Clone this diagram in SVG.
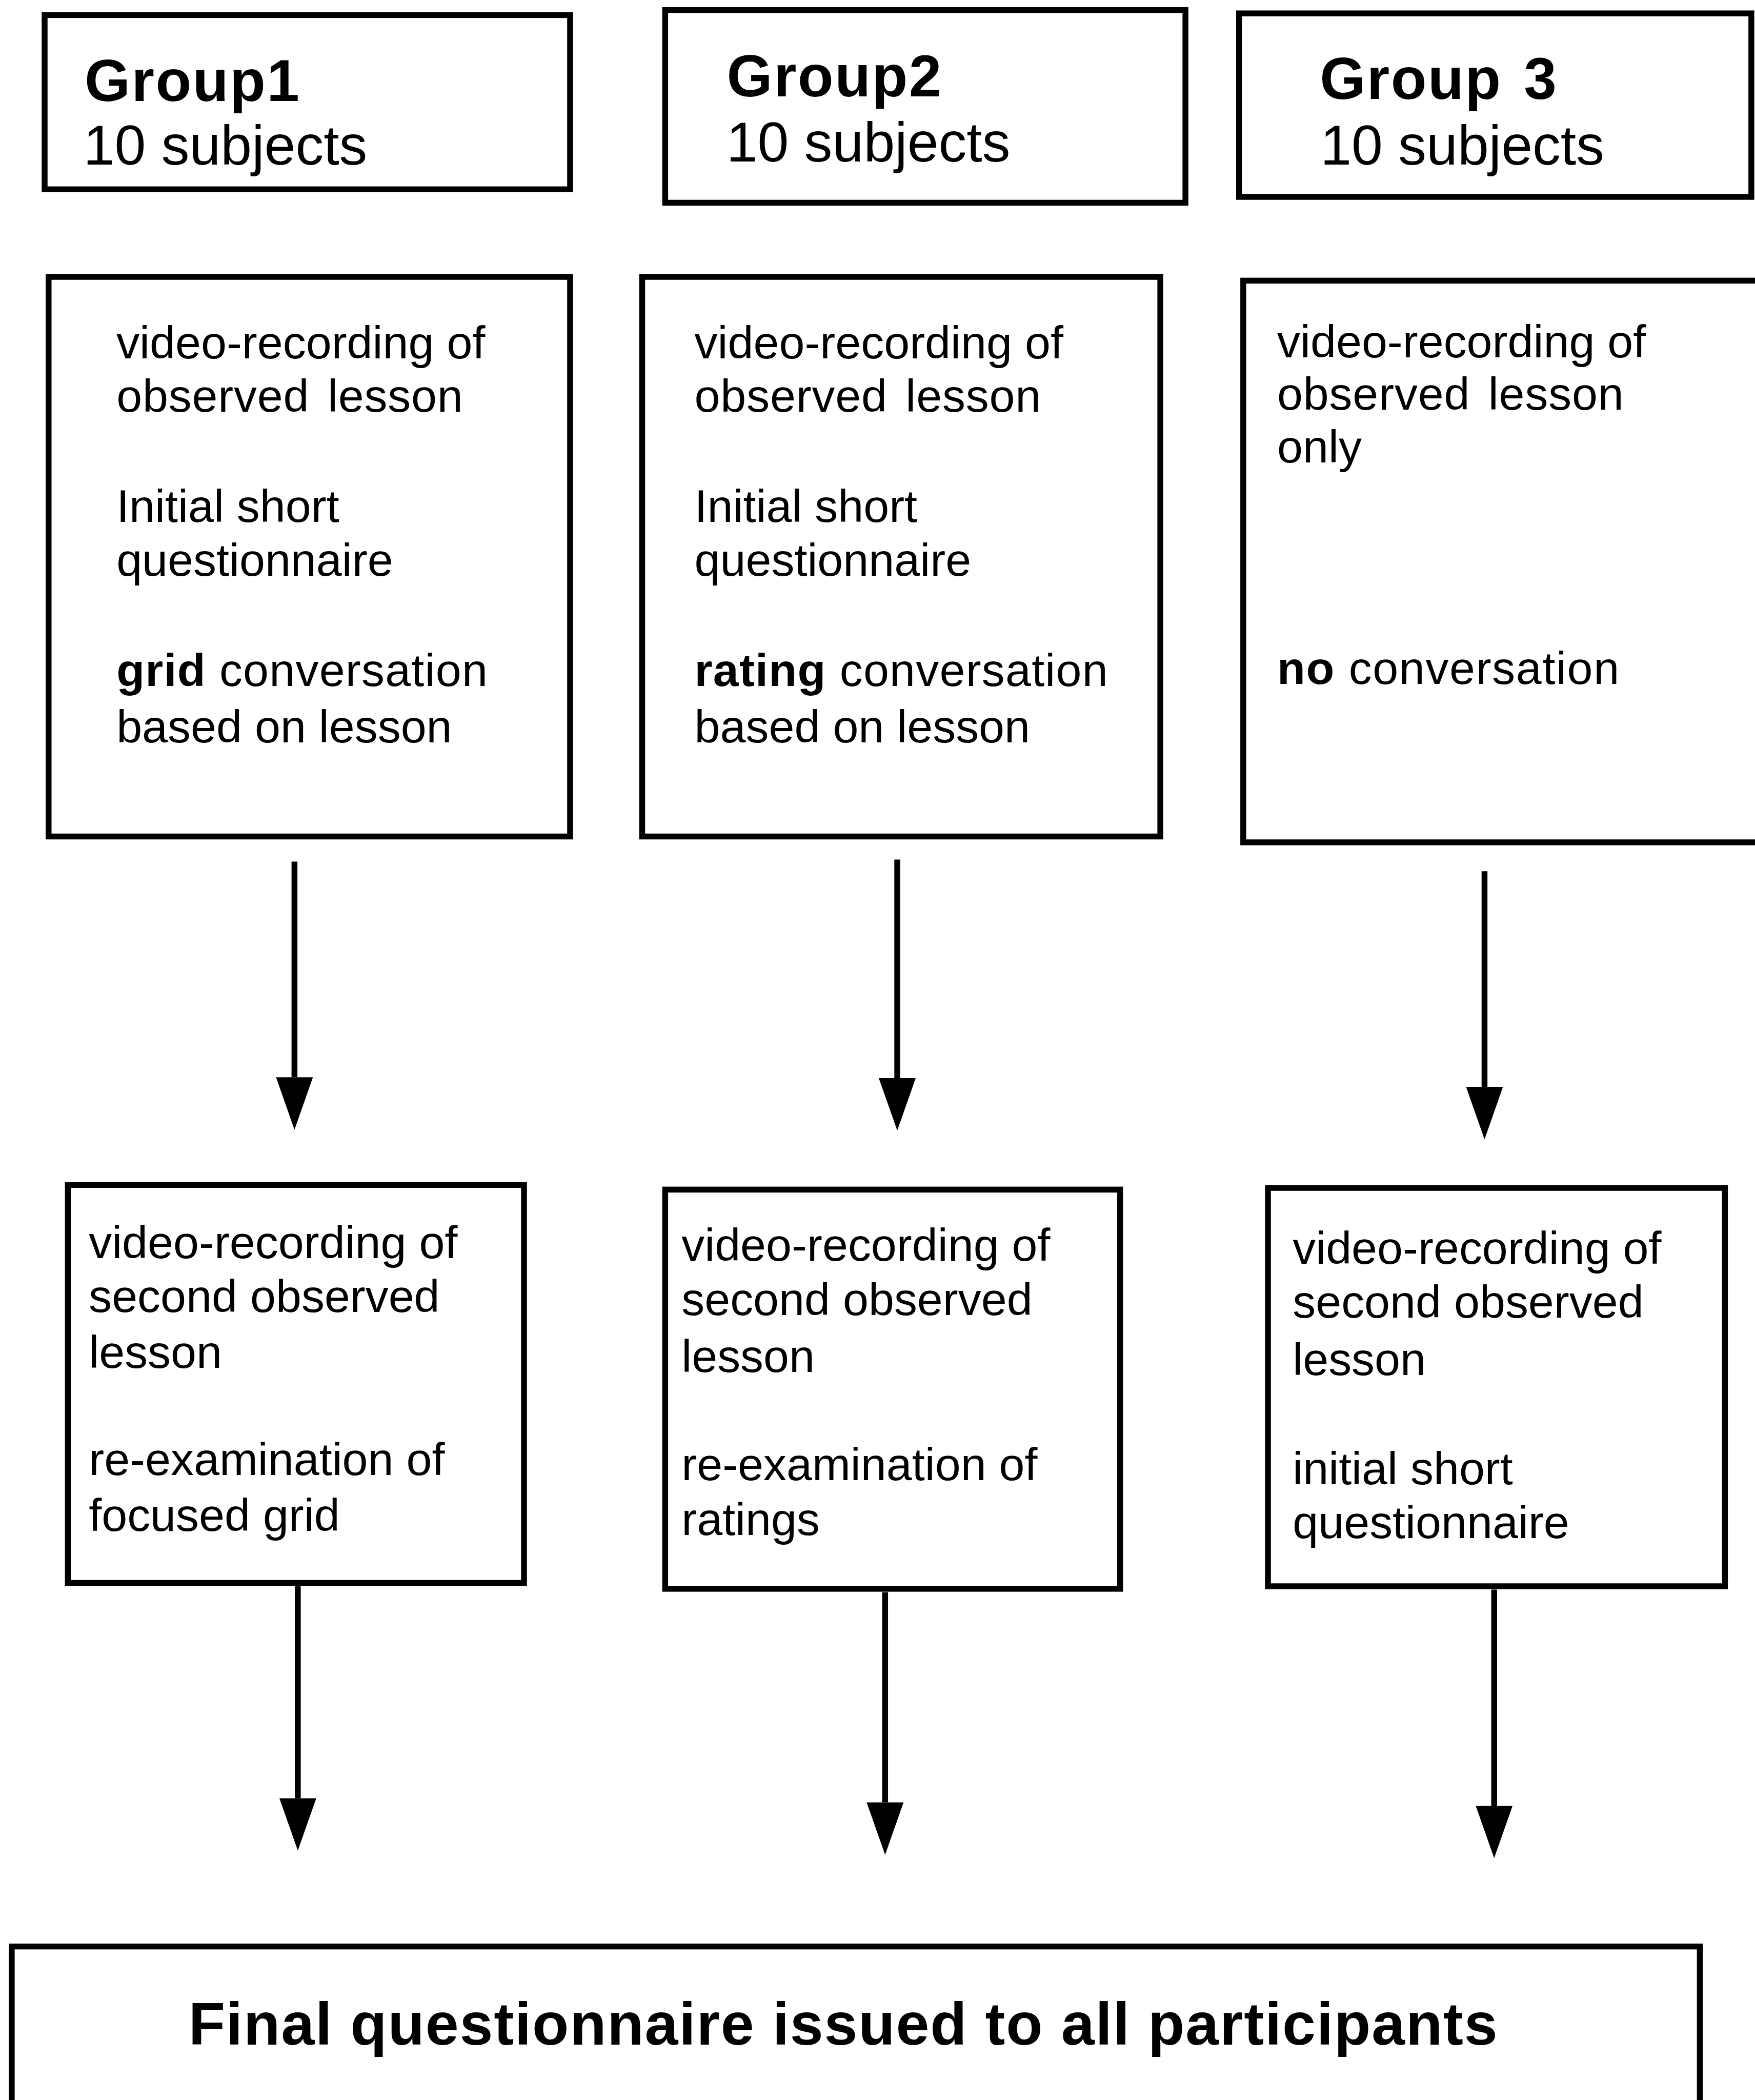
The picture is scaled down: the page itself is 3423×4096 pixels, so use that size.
<svg xmlns="http://www.w3.org/2000/svg" width="3423" height="4096" viewBox="0 0 3423 4096">
<defs>
<style>
.box{fill:none;stroke:#000;stroke-width:14}
.conn{stroke:#000;stroke-width:14;fill:none}
.t{font-family:"Liberation Sans",Arial,Helvetica,sans-serif;fill:#000}
.hd{font-size:140px;font-weight:bold;letter-spacing:3px}
.sub{font-size:134px}
.mid{font-size:110px}
.ws{word-spacing:12px;letter-spacing:1px}
.ls{letter-spacing:1.5px}
.bot{font-size:110px}
.b{font-weight:bold}
.fin{font-size:143px;font-weight:bold}
</style>
<marker id="ah" markerUnits="userSpaceOnUse" markerWidth="140" markerHeight="100" refX="0" refY="0" viewBox="0 -50 130 100" orient="auto" overflow="visible">
<path d="M0,-44 L125,0 L0,44 Z" fill="#000"/>
</marker>
</defs>
<rect width="3423" height="4096" fill="#fff"/>
<g transform="scale(0.817)">
<g id="group1">
<rect class="box" x="106.5" y="36" width="1254.5" height="416"/>
<text class="t hd" x="202" y="241">Group1</text>
<text class="t sub" x="199" y="393">10 subjects</text>
</g>
<g id="group2">
<rect class="box" x="1588" y="24" width="1242" height="460"/>
<text class="t hd" x="1735" y="230">Group2</text>
<text class="t sub" x="1734" y="385">10 subjects</text>
</g>
<g id="group3">
<rect class="box" x="2958" y="32" width="1223" height="438"/>
<text class="t hd" x="3151" y="236">Group<tspan x="3638">3</tspan></text>
<text class="t sub" x="3152" y="393">10 subjects</text>
</g>
<g id="step1a">
<rect class="box" x="116" y="661" width="1245" height="1336"/>
<text class="t mid" x="278" y="856">video-recording of</text>
<text class="t mid ws" x="278" y="983">observed lesson</text>
<text class="t mid" x="278" y="1246">Initial short</text>
<text class="t mid" x="278" y="1375">questionnaire</text>
<text class="t mid ls" x="278" y="1638"><tspan class="b">grid</tspan> conversation</text>
<text class="t mid" x="278" y="1772">based on lesson</text>
</g>
<g id="step1b">
<rect class="box" x="1533" y="661" width="1237" height="1336"/>
<text class="t mid" x="1658" y="856">video-recording of</text>
<text class="t mid ws" x="1658" y="983">observed lesson</text>
<text class="t mid" x="1658" y="1246">Initial short</text>
<text class="t mid" x="1658" y="1375">questionnaire</text>
<text class="t mid ls" x="1658" y="1638"><tspan class="b">rating</tspan> conversation</text>
<text class="t mid" x="1658" y="1772">based on lesson</text>
</g>
<g id="step1c">
<rect class="box" x="2968" y="670" width="1300" height="1341"/>
<text class="t mid" x="3049" y="853">video-recording of</text>
<text class="t mid ws" x="3049" y="978">observed lesson</text>
<text class="t mid" x="3049" y="1104">only</text>
<text class="t mid ls" x="3049" y="1633" style="letter-spacing:2px"><tspan class="b">no</tspan> conversation</text>
</g>
<g id="step2a">
<rect class="box" x="162" y="2829" width="1089" height="950"/>
<text class="t bot" x="212" y="3004">video-recording of</text>
<text class="t bot" x="212" y="3132">second observed</text>
<text class="t bot" x="212" y="3266">lesson</text>
<text class="t bot" x="212" y="3522">re-examination of</text>
<text class="t bot" x="212" y="3655">focused grid</text>
</g>
<g id="step2b">
<rect class="box" x="1588" y="2840" width="1086" height="953"/>
<text class="t bot" x="1627" y="3010">video-recording of</text>
<text class="t bot" x="1627" y="3139">second observed</text>
<text class="t bot" x="1627" y="3276">lesson</text>
<text class="t bot" x="1627" y="3534">re-examination of</text>
<text class="t bot" x="1627" y="3665">ratings</text>
</g>
<g id="step2c">
<rect class="box" x="3027" y="2836" width="1091" height="951"/>
<text class="t bot" x="3086" y="3017">video-recording of</text>
<text class="t bot" x="3086" y="3146">second observed</text>
<text class="t bot" x="3086" y="3283">lesson</text>
<text class="t bot" x="3086" y="3543">initial short</text>
<text class="t bot" x="3086" y="3672">questionnaire</text>
</g>
<g id="final">
<rect class="box" x="28" y="4647" width="4030" height="600"/>
<text class="t fin" x="450" y="4881" textLength="3125" lengthAdjust="spacing">Final questionnaire issued to all participants</text>
</g>
<g id="connectors">
<line class="conn" x1="703" y1="2057" x2="703" y2="2572" marker-end="url(#ah)"/>
<line class="conn" x1="2142" y1="2052" x2="2142" y2="2574" marker-end="url(#ah)"/>
<line class="conn" x1="3544" y1="2080" x2="3544" y2="2595" marker-end="url(#ah)"/>
<line class="conn" x1="711" y1="3787" x2="711" y2="4293" marker-end="url(#ah)"/>
<line class="conn" x1="2113" y1="3801" x2="2113" y2="4303" marker-end="url(#ah)"/>
<line class="conn" x1="3567" y1="3795" x2="3567" y2="4311" marker-end="url(#ah)"/>
</g>
</g>
</svg>
